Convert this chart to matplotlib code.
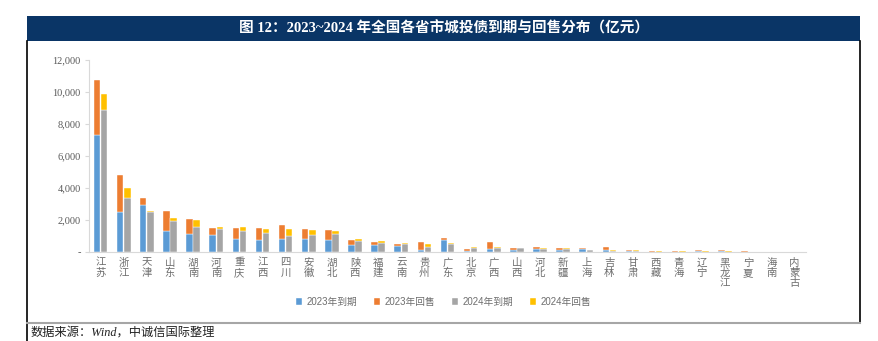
import numpy as np
import matplotlib
matplotlib.use('Agg')
import matplotlib.pyplot as plt
from matplotlib.patches import Rectangle
from matplotlib.lines import Line2D

plt.rcParams['font.family'] = ['Liberation Serif', 'Noto Sans CJK SC', 'DejaVu Sans']

provinces = ['江苏', '浙江', '天津', '山东', '湖南', '河南', '重庆', '江西', '四川', '安徽',
             '湖北', '陕西', '福建', '云南', '贵州', '广东', '北京', '广西', '山西', '河北',
             '新疆', '上海', '吉林', '甘肃', '西藏', '青海', '辽宁', '黑龙江', '宁夏', '海南', '内蒙古']

# 亿元
due_2023 = [7300, 2520, 2930, 1310, 1100, 1060, 790, 770, 830, 810,
            770, 420, 440, 350, 120, 750, 80, 170, 120, 190,
            120, 170, 120, 60, 20, 20, 60, 40, 20, 10, 10]
put_2023 = [3430, 2280, 460, 1250, 980, 420, 710, 730, 850, 600,
            580, 350, 200, 130, 500, 100, 130, 430, 130, 100,
            150, 60, 190, 60, 20, 20, 60, 90, 40, 0, 0]
due_2024 = [8860, 3350, 2470, 1910, 1580, 1440, 1330, 1210, 1020, 1080,
            1140, 690, 580, 520, 290, 520, 270, 230, 230, 190,
            170, 100, 40, 60, 20, 30, 20, 20, 10, 5, 5]
put_2024 = [1000, 660, 90, 230, 420, 120, 230, 250, 390, 270,
            170, 100, 90, 40, 210, 40, 40, 60, 40, 40,
            60, 50, 80, 40, 20, 20, 30, 20, 0, 0, 0]

series_labels = ['2023年到期', '2023年回售', '2024年到期', '2024年回售']
colors = ['#5B9BD5', '#ED7D31', '#A5A5A5', '#FFC000']

W, H = 879, 341
fig = plt.figure(figsize=(W / 100, H / 100), dpi=100)
ax = fig.add_axes([89 / W, 1 - 252 / H, (806 - 89) / W, (252 - 60) / H])

x = np.arange(len(provinces))
bw = 0.28
off = 0.155
ax.bar(x - off, due_2023, bw, color=colors[0], edgecolor='white', linewidth=0.3, label=series_labels[0])
ax.bar(x - off, put_2023, bw, bottom=due_2023, color=colors[1], edgecolor='white', linewidth=0.3, label=series_labels[1])
ax.bar(x + off, due_2024, bw, color=colors[2], edgecolor='white', linewidth=0.3, label=series_labels[2])
ax.bar(x + off, put_2024, bw, bottom=due_2024, color=colors[3], edgecolor='white', linewidth=0.3, label=series_labels[3])

ax.set_xlim(-0.5, len(provinces) - 0.5)
ax.set_ylim(0, 12000)
ax.set_yticks(np.arange(0, 12001, 2000))
ax.set_yticklabels(['-'] + ['{:,}'.format(v) for v in range(2000, 12001, 2000)],
                   fontsize=7.5, color='#595959', family=['Liberation Serif'])
ax.set_xticks(x)
ax.set_xticklabels(['\n'.join(p) for p in provinces], fontsize=7.5, color='#6E6E6E',
                   family=['Noto Sans CJK SC'], fontweight='light', va='top', linespacing=1.05)
for s in ['top', 'right']:
    ax.spines[s].set_visible(False)
ax.spines['left'].set_color('#D9D9D9')
ax.spines['bottom'].set_color('#D9D9D9')
ax.tick_params(axis='y', length=3, color='#D9D9D9', pad=3)
ax.tick_params(axis='x', length=0, pad=4)

leg = fig.legend(loc='center', bbox_to_anchor=(444 / W, 1 - 302 / H), ncol=4, frameon=False,
                 handlelength=0.6, handleheight=0.6, handletextpad=0.5, columnspacing=1.7,
                 prop={'family': ['Liberation Sans', 'Noto Sans CJK SC'], 'size': 7, 'weight': 'light'})
for t in leg.get_texts():
    t.set_color('#6E6E6E')

# title bar and frame
fig.add_artist(Rectangle((27 / W, 1 - 41 / H), (860 - 27) / W, 25 / H, transform=fig.transFigure,
                         facecolor='#0A3566', edgecolor='none'))
fig.text(444 / W, 1 - 28.5 / H, '图 12：2023~2024 年全国各省市城投债到期与回售分布（亿元）',
         color='white', fontsize=10.5, fontweight='bold', ha='center', va='center',
         family=['Liberation Serif', 'Noto Sans CJK SC'])
fig.add_artist(Line2D([27 / W, 27 / W], [0, 1 - 41 / H], color='black', lw=1.2))
fig.add_artist(Line2D([860 / W, 860 / W], [1 - 323 / H, 1 - 41 / H], color='black', lw=1.2))
fig.add_artist(Line2D([27 / W, 860 / W], [1 - 323 / H, 1 - 323 / H], color='#A6A6A6', lw=1.5))
fig.text(31 / W, 1 - 333 / H, '数据来源：Wind，中诚信国际整理', fontsize=8.8, style='italic',
         color='#222222', ha='left', va='center', family=['Liberation Serif', 'Noto Sans CJK SC'])

fig.savefig('out.png', dpi=100)
